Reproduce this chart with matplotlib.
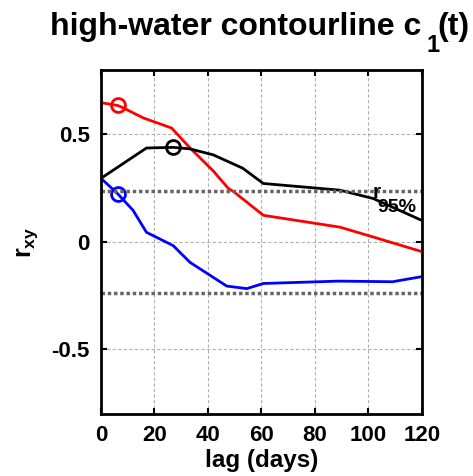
import matplotlib
matplotlib.use("Agg")
import matplotlib.pyplot as plt
from matplotlib.transforms import IdentityTransform

plt.rcParams['font.family'] = ['Liberation Sans', 'DejaVu Sans']
plt.rcParams['font.weight'] = 'bold'
plt.rcParams['mathtext.fontset'] = 'custom'
plt.rcParams['mathtext.rm'] = 'Liberation Sans:bold'
plt.rcParams['mathtext.bf'] = 'Liberation Sans:bold'
plt.rcParams['mathtext.it'] = 'Liberation Sans:bold'

red_lag = [0, 6.2, 8.3, 15.8, 26.4, 33.3, 42, 47.6, 49.5, 60.7, 89.3, 101.8, 120]
red_r = [0.648, 0.635, 0.624, 0.577, 0.53, 0.437, 0.33, 0.249, 0.235, 0.124, 0.069, 0.023, -0.045]

black_lag = [0, 17, 27, 33.3, 42, 53, 60.7, 89.3, 101.8, 120]
black_r = [0.296, 0.437, 0.44, 0.433, 0.405, 0.343, 0.272, 0.241, 0.202, 0.10]

blue_lag = [0, 6.2, 12, 17, 27, 33.3, 47, 54.5, 60.7, 89, 109, 120]
blue_r = [0.296, 0.225, 0.147, 0.045, -0.017, -0.095, -0.205, -0.217, -0.193, -0.182, -0.185, -0.161]

max_points = {'#ff0000': (6.2, 0.635), 'black': (27, 0.44), '#0000ff': (6.2, 0.225)}
r95 = 0.235

fig = plt.figure(figsize=(4.73, 4.76), dpi=100)
ax = fig.add_axes([0.2135, 0.1303, 0.6786, 0.7227])

ax.plot(red_lag, red_r, color='#ff0000', lw=2)
ax.plot(black_lag, black_r, color='black', lw=2)
ax.plot(blue_lag, blue_r, color='#0000ff', lw=2)
for c, (x, y) in max_points.items():
    ax.plot([x], [y], 'o', mfc='none', mec=c, ms=10, mew=2)

ax.axhline(r95, color='#666666', ls=(0, (1, 0.8)), lw=2.5)
ax.axhline(-r95, color='#666666', ls=(0, (1, 0.8)), lw=2.5)
ax.text(101.6, 0.205, 'r', fontsize=15, fontweight='bold', va='baseline', ha='left')
ax.text(103.4, 0.16, '95%', fontsize=14, fontweight='bold', va='center', ha='left')

ax.set_xlim(0, 120)
ax.set_ylim(-0.8, 0.8)
ax.set_xticks([0, 20, 40, 60, 80, 100, 120])
ax.set_yticks([-0.5, 0, 0.5])
ax.set_yticklabels(['-0.5', '0', '0.5'])
ax.grid(True, color='#b0b0b0', ls=(0, (3, 2)), lw=0.8)
ax.tick_params(labelsize=16, direction='in', length=4, width=1.5, top=True, right=True, pad=8)
for lab in ax.get_xticklabels() + ax.get_yticklabels():
    lab.set_fontweight('bold')
for s in ax.spines.values():
    s.set_linewidth(2)

ax.set_xlabel('lag (days)', fontsize=17.5, fontweight='bold', labelpad=2)
ax.set_ylabel(r'r$_{\mathrm{xy}}$', fontsize=18, fontweight='bold', labelpad=8)

H = 476
fig.text(50, H - 35, 'high-water contourline c', fontsize=23, fontweight='bold',
         ha='left', va='baseline', transform=IdentityTransform())
fig.text(426, H - 52, '1', fontsize=17, fontweight='bold',
         ha='left', va='baseline', transform=IdentityTransform())
fig.text(437, H - 35, '(t)', fontsize=23, fontweight='bold',
         ha='left', va='baseline', transform=IdentityTransform())

fig.savefig('out.png', dpi=100)
